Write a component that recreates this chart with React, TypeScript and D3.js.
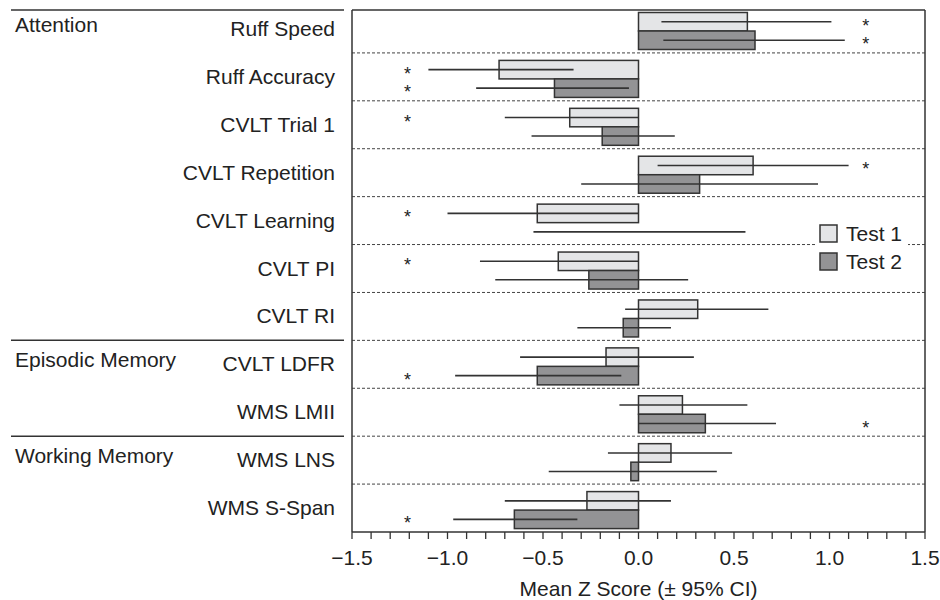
import React from "react";
import * as d3 from "d3";

// rows, top to bottom
const categories = [
  "Ruff Speed",
  "Ruff Accuracy",
  "CVLT Trial 1",
  "CVLT Repetition",
  "CVLT Learning",
  "CVLT PI",
  "CVLT RI",
  "CVLT LDFR",
  "WMS LMII",
  "WMS LNS",
  "WMS S-Span",
];

// domain groups: label + first row index
const groupNames = ["Attention", "Episodic Memory", "Working Memory"];
const groupStarts = [0, 7, 9];

const test1Mean = [0.57, -0.73, -0.36, 0.6, -0.53, -0.42, 0.31, -0.17, 0.23, 0.17, -0.27];
const test1Lo = [0.12, -1.1, -0.7, 0.1, -1.0, -0.83, -0.07, -0.62, -0.1, -0.16, -0.7];
const test1Hi = [1.01, -0.34, 0.0, 1.1, 0.0, 0.0, 0.68, 0.29, 0.57, 0.49, 0.17];

const test2Mean = [0.61, -0.44, -0.19, 0.32, 0.0, -0.26, -0.08, -0.53, 0.35, -0.04, -0.65];
const test2Lo = [0.13, -0.85, -0.56, -0.3, -0.55, -0.75, -0.32, -0.96, 0.0, -0.47, -0.97];
const test2Hi = [1.08, -0.05, 0.19, 0.94, 0.56, 0.26, 0.17, -0.09, 0.72, 0.41, -0.32];

// significance markers: side of the plot, or null
const test1Sig = ["R", "L", "L", "R", "L", "L", null, null, null, null, null];
const test2Sig = ["R", "L", null, null, null, null, null, "L", "R", null, "L"];

const seriesNames = ["Test 1", "Test 2"];
const seriesColors = ["#e4e5e7", "#939395"];

const xTicks = [-1.5, -1.0, -0.5, 0.0, 0.5, 1.0, 1.5];

const App = () => {
  const font = "'Liberation Sans', Arial, Helvetica, sans-serif";
  const fs = 21;
  const left = 352,
    right = 925,
    top = 10,
    bottom = 532;

  const x = d3.scaleLinear().domain([-1.5, 1.5]).range([left, right]);
  const y = d3.scaleBand().domain(categories).range([5, bottom]);
  const inner = d3.scaleBand().domain(seriesNames).range([7.5, 44.5]);

  const series = [
    { name: seriesNames[0], mean: test1Mean, lo: test1Lo, hi: test1Hi, sig: test1Sig },
    { name: seriesNames[1], mean: test2Mean, lo: test2Lo, hi: test2Hi, sig: test2Sig },
  ];

  const minorTicks = d3.range(-15, 16).map((d) => d / 10);
  const ink = "#333";

  return (
    <svg
      width={940}
      height={600}
      style={{ position: "absolute", left: 0, top: 0, display: "block", background: "#fff" }}
      fontFamily={font}
    >
      {/* row separators */}
      {categories.slice(1).map((c) => (
        <line
          key={"d" + c}
          x1={left}
          x2={right}
          y1={y(c)}
          y2={y(c)}
          stroke="#444"
          strokeWidth={1}
          strokeDasharray="3,2"
        />
      ))}

      {/* bars */}
      {series.map((s, si) =>
        categories.map((c, i) => {
          const x0 = x(Math.min(0, s.mean[i]));
          const x1 = x(Math.max(0, s.mean[i]));
          return (
            <rect
              key={s.name + c}
              x={x0}
              y={y(c) + inner(s.name)}
              width={x1 - x0}
              height={inner.bandwidth()}
              fill={seriesColors[si]}
              stroke={ink}
              strokeWidth={1.5}
            />
          );
        })
      )}

      {/* confidence intervals */}
      {series.map((s) =>
        categories.map((c, i) => {
          const cy = y(c) + inner(s.name) + inner.bandwidth() / 2;
          return (
            <line
              key={"ci" + s.name + c}
              x1={x(s.lo[i])}
              x2={x(s.hi[i])}
              y1={cy}
              y2={cy}
              stroke={ink}
              strokeWidth={1.6}
            />
          );
        })
      )}

      {/* asterisks */}
      {series.map((s) =>
        categories.map((c, i) => {
          if (!s.sig[i]) return null;
          const cy = y(c) + inner(s.name) + inner.bandwidth() / 2;
          return (
            <text
              key={"s" + s.name + c}
              x={x(s.sig[i] === "L" ? -1.21 : 1.19)}
              y={cy + 10}
              fontSize={18}
              textAnchor="middle"
              fill="#222"
            >
              *
            </text>
          );
        })
      )}

      {/* legend */}
      <rect x={815} y={217} width={93} height={60} fill="#fff" />
      {seriesNames.map((n, i) => (
        <g key={"lg" + n} transform={`translate(820,${225 + i * 28})`}>
          <rect width={17} height={17} fill={seriesColors[i]} stroke={ink} strokeWidth={1.5} />
          <text x={26} y={16} fontSize={fs} fill="#222">
            {n}
          </text>
        </g>
      ))}

      {/* frame */}
      <line x1={left} x2={right} y1={top} y2={top} stroke={ink} strokeWidth={1.5} />
      <line x1={left} x2={left} y1={top} y2={bottom} stroke={ink} strokeWidth={1.5} />
      <line x1={right} x2={right} y1={top} y2={bottom} stroke={ink} strokeWidth={1.5} />
      <line x1={left} x2={right} y1={bottom} y2={bottom} stroke={ink} strokeWidth={1.5} />

      {/* x axis ticks */}
      {minorTicks.map((t) => (
        <line key={"t" + t} x1={x(t)} x2={x(t)} y1={bottom} y2={bottom + 7} stroke={ink} strokeWidth={1.3} />
      ))}
      {xTicks.map((t) => (
        <text key={"tl" + t} x={x(t)} y={565} fontSize={fs} textAnchor="middle" fill="#222">
          {(t < 0 ? "\u2212" : "") + Math.abs(t).toFixed(1)}
        </text>
      ))}
      <text x={x(0)} y={596} fontSize={fs} textAnchor="middle" fill="#222">
        Mean Z Score (± 95% CI)
      </text>

      {/* category labels */}
      {categories.map((c) => (
        <text
          key={"c" + c}
          x={335}
          y={y(c) + y.bandwidth() / 2 + 7}
          fontSize={fs}
          textAnchor="end"
          fill="#222"
        >
          {c}
        </text>
      ))}

      {/* group labels and separators */}
      {groupNames.map((g, i) => {
        const c = categories[groupStarts[i]];
        const ly = i === 0 ? top : y(c);
        return (
          <g key={"g" + g}>
            <line x1={11} x2={344} y1={ly} y2={ly} stroke={ink} strokeWidth={1.5} />
            <text x={15} y={y(c) + y.bandwidth() / 2 + 3} fontSize={fs} fill="#222">
              {g}
            </text>
          </g>
        );
      })}
    </svg>
  );
};

export default App;
